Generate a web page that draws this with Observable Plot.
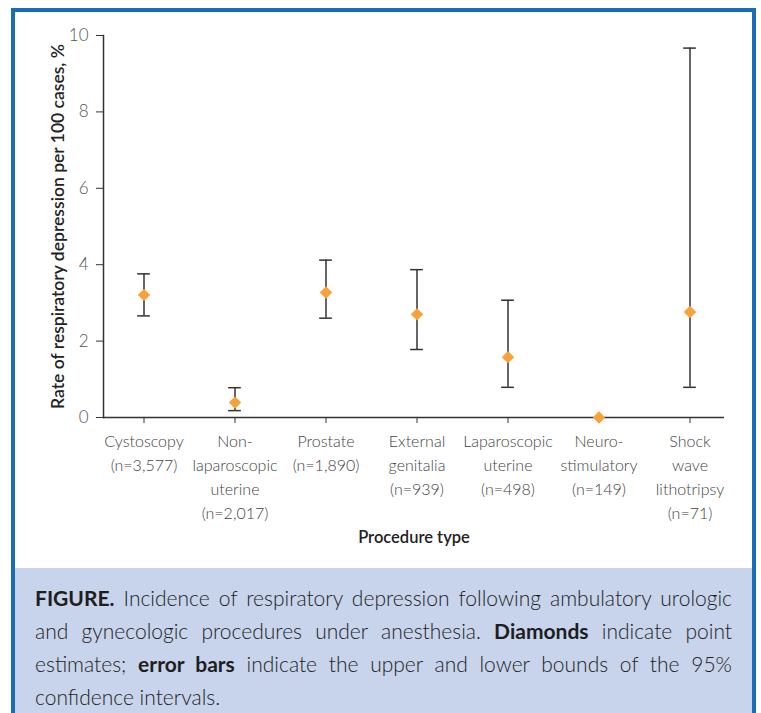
<!DOCTYPE html>
<html>
<head>
<meta charset="utf-8">
<script src="https://cdn.jsdelivr.net/npm/d3@7"></script>
<script src="https://cdn.jsdelivr.net/npm/@observablehq/plot@0.6"></script>
<style>
  html, body { margin: 0; padding: 0; background: #fff; }
  body { width: 761px; height: 713px; position: relative; overflow: hidden; font-family: Lato, "Open Sans", sans-serif; }
  #frame { position: absolute; left: 11px; top: 8px; width: 745px; height: 740px; box-sizing: border-box;
           border: 4px solid #1b6cb6; background: #fff; }
  #caption { position: absolute; left: 15px; top: 568px; width: 737px; height: 160px; background: #c7d4eb;
             box-sizing: border-box; padding: 13px 20px 0 20px; color: #1e1e1e; font-size: 21px; font-weight: 300; }
  #caption div { text-align: justify; text-align-last: justify; white-space: nowrap; line-height: 33px; }
  #caption div.last { text-align-last: left; }
  #caption b { font-weight: 700; }
  #chart { position: absolute; left: 0; top: 0; }
</style>
</head>
<body>
<div id="frame"></div>
<div id="chart"></div>
<div id="caption">
  <div><b>FIGURE.</b> Incidence of respiratory depression following ambulatory urologic</div>
  <div>and gynecologic procedures under anesthesia. <b>Diamonds</b> indicate point</div>
  <div>estimates; <b>error bars</b> indicate the upper and lower bounds of the 95%</div>
  <div class="last">confidence intervals.</div>
</div>
<script>
const categories = ["Cystoscopy", "Non-laparoscopic uterine", "Prostate", "External genitalia",
                    "Laparoscopic uterine", "Neurostimulatory", "Shock wave lithotripsy"];
const tickLabels = ["Cystoscopy\n(n=3,577)", "Non-\nlaparoscopic\nuterine\n(n=2,017)", "Prostate\n(n=1,890)",
                    "External\ngenitalia\n(n=939)", "Laparoscopic\nuterine\n(n=498)", "Neuro-\nstimulatory\n(n=149)",
                    "Shock\nwave\nlithotripsy\n(n=71)"];
const estimate = [3.21, 0.39, 3.27, 2.70, 1.58, 0, 2.76];
const lower    = [2.66, 0.18, 2.60, 1.78, 0.79, 0, 0.79];
const upper    = [3.76, 0.78, 4.12, 3.87, 3.07, 0, 9.67];
const yTicks = [0, 2, 4, 6, 8, 10];

const data = categories.map((c, i) => ({cat: c, label: tickLabels[i], est: estimate[i], lo: lower[i], hi: upper[i]}));
const bars = data.filter(d => d.hi > d.lo);
const labelOf = new Map(data.map(d => [d.cat, d.label]));

const step = 91.3;
const capInset = (step - 13) / 2;

const chart = Plot.plot({
  width: 761,
  height: 560,
  marginLeft: 103,
  marginRight: 37,
  marginTop: 35,
  marginBottom: 143,
  style: {fontFamily: "Lato, 'Open Sans', sans-serif", background: "transparent"},
  x: {type: "band", domain: categories, range: [143 - step / 2, 691 + step / 2], padding: 0},
  y: {domain: [0, 10]},
  marks: [
    Plot.frame({anchor: "left", stroke: "#333", strokeWidth: 1.5}),
    Plot.ruleY([0], {stroke: "#333", strokeWidth: 1.5}),
    Plot.axisY({ticks: yTicks, tickSize: 7, tickPadding: 8, fontSize: 17, fontWeight: 300, fill: "#555", stroke: "#333",
                label: "Rate of respiratory depression per 100 cases, %", labelAnchor: "center",
                labelArrow: "none", labelOffset: 52}),
    Plot.axisX({tickSize: 6, tickPadding: 6, fontSize: 16, fontWeight: 300, fill: "#444", stroke: "#333", lineHeight: 1.5,
                tickFormat: d => labelOf.get(d), label: null}),
    Plot.ruleX(bars, {x: "cat", y1: "lo", y2: "hi", stroke: "#333", strokeWidth: 1.5}),
    Plot.tickY(bars, {x: "cat", y: "lo", stroke: "#333", strokeWidth: 1.5, insetLeft: capInset, insetRight: capInset}),
    Plot.tickY(bars, {x: "cat", y: "hi", stroke: "#333", strokeWidth: 1.5, insetLeft: capInset, insetRight: capInset}),
    Plot.dot(data, {x: "cat", y: "est", symbol: "diamond2", r: 5.6, fill: "#f7a23b", stroke: "none"}),
    Plot.text(["Procedure type"], {frameAnchor: "bottom", dy: 125, text: d => d, fontSize: 16.5, fontWeight: 600, fill: "#222"})
  ]
});
chart.querySelectorAll("[aria-label='y-axis label'] text").forEach(t => {
  t.setAttribute("font-size", 17.5); t.setAttribute("font-weight", 600); t.setAttribute("fill", "#222");
});
document.getElementById("chart").appendChild(chart);
</script>
</body>
</html>
